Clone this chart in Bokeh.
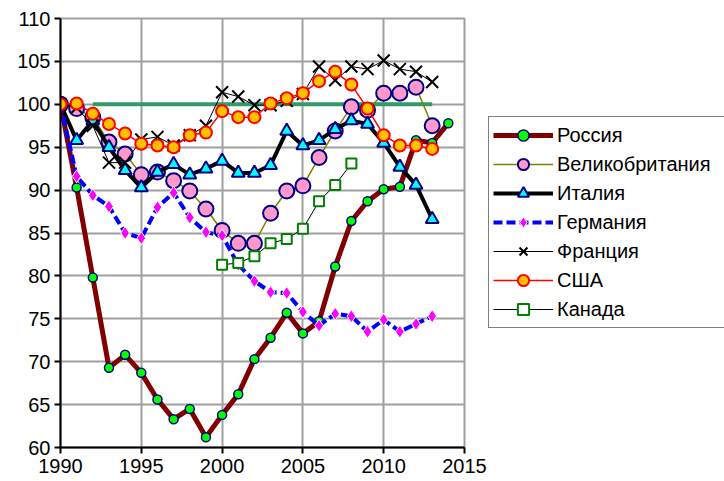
from bokeh.plotting import figure
from bokeh.models import Legend, LegendItem, SingleIntervalTicker
from bokeh.embed import file_html
from bokeh.resources import INLINE

# ---- data ----
years_full = [1990, 1991, 1992, 1993, 1994, 1995, 1996, 1997, 1998, 1999, 2000, 2001, 2002,
              2003, 2004, 2005, 2006, 2007, 2008, 2009, 2010, 2011, 2012, 2013, 2014]
years_13 = years_full[:24]
years_canada = [2000, 2001, 2002, 2003, 2004, 2005, 2006, 2007, 2008]
ref_years = [1992, 2013]
ref_values = [100, 100]

russia = [100, 90.3, 79.8, 69.3, 70.8, 68.7, 65.6, 63.3, 64.5, 61.2, 63.8, 66.2, 70.3,
          72.8, 75.7, 73.3, 74.7, 81.1, 86.4, 88.7, 90.1, 90.4, 95.8, 95.5, 97.8]
uk = [100, 99.5, 98.5, 95.6, 94.2, 91.8, 92.1, 91.1, 89.9, 87.8, 85.3, 83.8, 83.8,
      87.3, 89.9, 90.5, 93.8, 96.9, 99.7, 99.3, 101.3, 101.3, 102.0, 97.5]
italy = [100, 95.8, 98.1, 95.0, 92.3, 90.3, 92.1, 93.0, 91.8, 92.5, 93.4, 92.0, 92.0,
         92.9, 96.9, 95.2, 95.8, 97.1, 98.1, 97.7, 95.5, 92.7, 90.6, 86.6]
germany = [100, 91.6, 89.4, 88.1, 85.0, 84.4, 88.0, 89.7, 86.8, 85.1, 84.7, 81.3, 79.4,
           78.1, 78.0, 75.8, 74.2, 75.6, 75.3, 73.5, 74.9, 73.5, 74.4, 75.3]
france = [100, 99.6, 97.5, 93.2, 93.2, 95.9, 96.2, 95.2, 96.4, 97.5, 101.4, 100.9, 99.9,
          99.9, 100.4, 101.2, 104.4, 102.8, 104.4, 104.1, 105.1, 104.1, 103.8, 102.6]
usa = [100, 100.1, 98.9, 97.7, 96.6, 95.4, 95.2, 95.0, 96.4, 96.7, 99.2, 98.5, 98.5,
       100.1, 100.7, 101.3, 102.7, 103.8, 102.3, 99.5, 96.4, 95.2, 95.2, 94.8]
canada = [81.3, 81.5, 82.3, 83.8, 84.3, 85.5, 88.7, 90.6, 93.1]

labels = ["Россия", "Великобритания", "Италия", "Германия", "Франция", "США", "Канада"]

FONT = "Liberation Sans"

p = figure(frame_width=404, frame_height=429, x_range=(1990, 2015), y_range=(60, 110),
           output_backend="svg", toolbar_location=None,
           min_border_left=60, min_border_top=18, min_border_right=2, min_border_bottom=30)
p.background_fill_color = "white"
p.border_fill_color = "white"
p.outline_line_color = "#A0A0A0"
p.outline_line_width = 2

for ax in (p.xaxis[0], p.yaxis[0]):
    ax.ticker = SingleIntervalTicker(interval=5)
    ax.axis_line_color = "black"
    ax.axis_line_width = 2
    ax.major_tick_line_color = "black"
    ax.major_tick_line_width = 2
    ax.major_tick_out = 6
    ax.major_tick_in = 0
    ax.minor_tick_line_color = None
    ax.major_label_text_font = FONT
    ax.major_label_text_font_size = "20px"
    ax.major_label_text_color = "black"
p.yaxis.major_label_standoff = 4
p.xaxis.major_label_standoff = 5

p.xgrid.ticker = SingleIntervalTicker(interval=5)
p.ygrid.ticker = SingleIntervalTicker(interval=5)
for g in (p.xgrid[0], p.ygrid[0]):
    g.grid_line_color = "#A0A0A0"
    g.grid_line_width = 2

# reference level line
p.line(ref_years, ref_values, line_color="#339966", line_width=4)

items = []

r1 = p.line(years_full, russia, line_color="#800000", line_width=5)
r1m = p.scatter(years_full, russia, marker="circle", size=9, fill_color="#00FF00",
                line_color="#000080", line_width=1.5)
items.append(LegendItem(label=labels[0], renderers=[r1, r1m]))

r2 = p.line(years_13, uk, line_color="#808000", line_width=1.5)
r2m = p.scatter(years_13, uk, marker="circle", size=15, fill_color="#FF99CC",
                line_color="#000080", line_width=2)
items.append(LegendItem(label=labels[1], renderers=[r2, r2m]))

r3 = p.line(years_13, italy, line_color="black", line_width=4)
r3m = p.scatter(years_13, italy, marker="triangle", size=13, fill_color="#00FFFF",
                line_color="#000080", line_width=2)
items.append(LegendItem(label=labels[2], renderers=[r3, r3m]))

r4 = p.line(years_13, germany, line_color="#0000FF", line_width=4, line_dash="9 4")
r4m = p.scatter(years_13, germany, marker="diamond", size=13, fill_color="#FF00FF",
                line_color="white", line_width=1)
items.append(LegendItem(label=labels[3], renderers=[r4, r4m]))

r5 = p.line(years_13, france, line_color="black", line_width=1)
r5m = p.scatter(years_13, france, marker="x", size=17, line_color="black", line_width=2)
items.append(LegendItem(label=labels[4], renderers=[r5, r5m]))

r6 = p.line(years_13, usa, line_color="#FF0000", line_width=1.5)
r6m = p.scatter(years_13, usa, marker="circle", size=12, fill_color="#FFC000",
                line_color="#FF0000", line_width=2)
items.append(LegendItem(label=labels[5], renderers=[r6, r6m]))

r7 = p.line(years_canada, canada, line_color="black", line_width=1)
r7m = p.scatter(years_canada, canada, marker="square", size=10, fill_color="white",
                line_color="#008000", line_width=2)
items.append(LegendItem(label=labels[6], renderers=[r7, r7m]))

legend = Legend(items=items, location=(24, 119))
legend.label_text_font = FONT
legend.label_text_font_size = "20px"
legend.label_text_color = "black"
legend.glyph_width = 60
legend.glyph_height = 28
legend.label_height = 28
legend.spacing = 1
legend.padding = 4
legend.margin = 0
legend.label_standoff = 4
legend.label_width = 166
legend.border_line_color = "black"
legend.border_line_width = 1
legend.background_fill_color = "white"
legend.background_fill_alpha = 1
p.add_layout(legend, "right")

open("out.html", "w").write(file_html(p, INLINE))
